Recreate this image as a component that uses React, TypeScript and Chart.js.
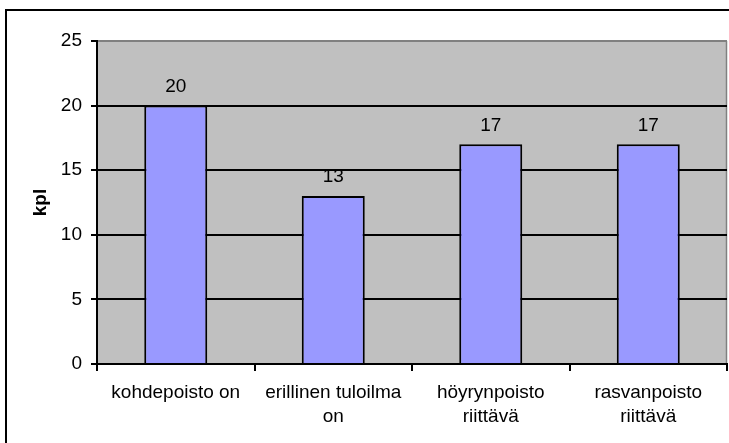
import React, { useEffect, useRef } from 'react';
import { Chart, registerables } from 'chart.js';

Chart.register(...registerables);

const categories: (string | string[])[] = [
  'kohdepoisto on',
  ['erillinen tuloilma', 'on'],
  ['höyrynpoisto', 'riittävä'],
  ['rasvanpoisto', 'riittävä'],
];
const values = [20, 13, 17, 17];
const yMin = 0;
const yMax = 25;
const yStep = 5;
const yTitle = 'kpl';

const FONT = '"Liberation Sans", Arial, sans-serif';

const bgPlugin = {
  id: 'bgPlugin',
  beforeDraw(chart: any) {
    const { ctx, chartArea: a } = chart;
    ctx.save();
    ctx.fillStyle = '#ffffff';
    ctx.fillRect(0, 0, chart.width, chart.height);
    ctx.strokeStyle = '#000000';
    ctx.lineWidth = 2;
    ctx.beginPath();
    ctx.moveTo(6, chart.height + 10);
    ctx.lineTo(6, 10);
    ctx.lineTo(chart.width + 10, 10);
    ctx.stroke();
    ctx.fillStyle = '#C0C0C0';
    ctx.fillRect(a.left, a.top, a.right - a.left, a.bottom - a.top);
    ctx.strokeStyle = '#808080';
    ctx.lineWidth = 1.5;
    ctx.beginPath();
    ctx.moveTo(Math.round(a.right) - 0.5, a.top);
    ctx.lineTo(Math.round(a.right) - 0.5, a.bottom);
    ctx.stroke();
    ctx.restore();
  },
  afterDraw(chart: any) {
    const { ctx, chartArea: a } = chart;
    ctx.save();
    ctx.translate(41, (a.top + a.bottom) / 2);
    ctx.rotate(-Math.PI / 2);
    ctx.font = `bold 19px ${FONT}`;
    ctx.fillStyle = '#000';
    ctx.textAlign = 'center';
    ctx.textBaseline = 'middle';
    ctx.fillText(yTitle, 0, 0);
    ctx.restore();
  },
};

const labelPlugin = {
  id: 'labelPlugin',
  afterDatasetsDraw(chart: any) {
    const { ctx } = chart;
    const meta = chart.getDatasetMeta(0);
    ctx.save();
    ctx.font = `19px ${FONT}`;
    ctx.fillStyle = '#000';
    ctx.textAlign = 'center';
    ctx.textBaseline = 'middle';
    meta.data.forEach((bar: any, i: number) => {
      ctx.fillText(String(values[i]), bar.x, bar.y - 19);
    });
    ctx.restore();
  },
};

export default function App() {
  const ref = useRef<HTMLCanvasElement>(null);
  useEffect(() => {
    if (!ref.current) return;
    const chart = new Chart(ref.current, {
      type: 'bar',
      data: {
        labels: categories,
        datasets: [
          {
            data: values,
            backgroundColor: '#9999FF',
            borderColor: '#000000',
            borderWidth: 2,
            borderSkipped: 'start',
            categoryPercentage: 1,
            barPercentage: 0.4,
          },
        ],
      },
      options: {
        responsive: false,
        animation: false,
        devicePixelRatio: 1,
        layout: { padding: { top: 41, right: 2, left: 0, bottom: 0 } },
        plugins: { legend: { display: false }, tooltip: { enabled: false } },
        scales: {
          x: {
            grid: {
              offset: true,
              drawOnChartArea: false,
              drawTicks: true,
              tickLength: 7,
              tickColor: '#000',
              tickWidth: 2,
              color: '#000',
              lineWidth: 2,
            },
            border: { color: '#000', width: 2 },
            ticks: {
              font: { family: FONT, size: 19, lineHeight: 1.3 },
              color: '#000',
              padding: 9,
              maxRotation: 0,
              autoSkip: false,
            },
            afterFit(scale: any) {
              scale.height = 79;
            },
          },
          y: {
            min: yMin,
            max: yMax,
            grid: {
              color: (c: any) => (c.tick && c.tick.value === yMax ? '#808080' : '#000'),
              tickColor: '#000',
              tickLength: 6,
              tickWidth: 2,
              lineWidth: 2,
            },
            border: { color: '#000', width: 2 },
            ticks: {
              stepSize: yStep,
              font: { family: FONT, size: 19 },
              color: '#000',
              padding: 9,
            },
            afterFit(scale: any) {
              scale.width = 97;
            },
          },
        },
      },
      plugins: [bgPlugin, labelPlugin],
    });
    return () => chart.destroy();
  }, []);
  return (
    <div style={{ position: 'absolute', left: 0, top: 0, width: 729, height: 443 }}>
      <canvas ref={ref} width={729} height={443} />
    </div>
  );
}
